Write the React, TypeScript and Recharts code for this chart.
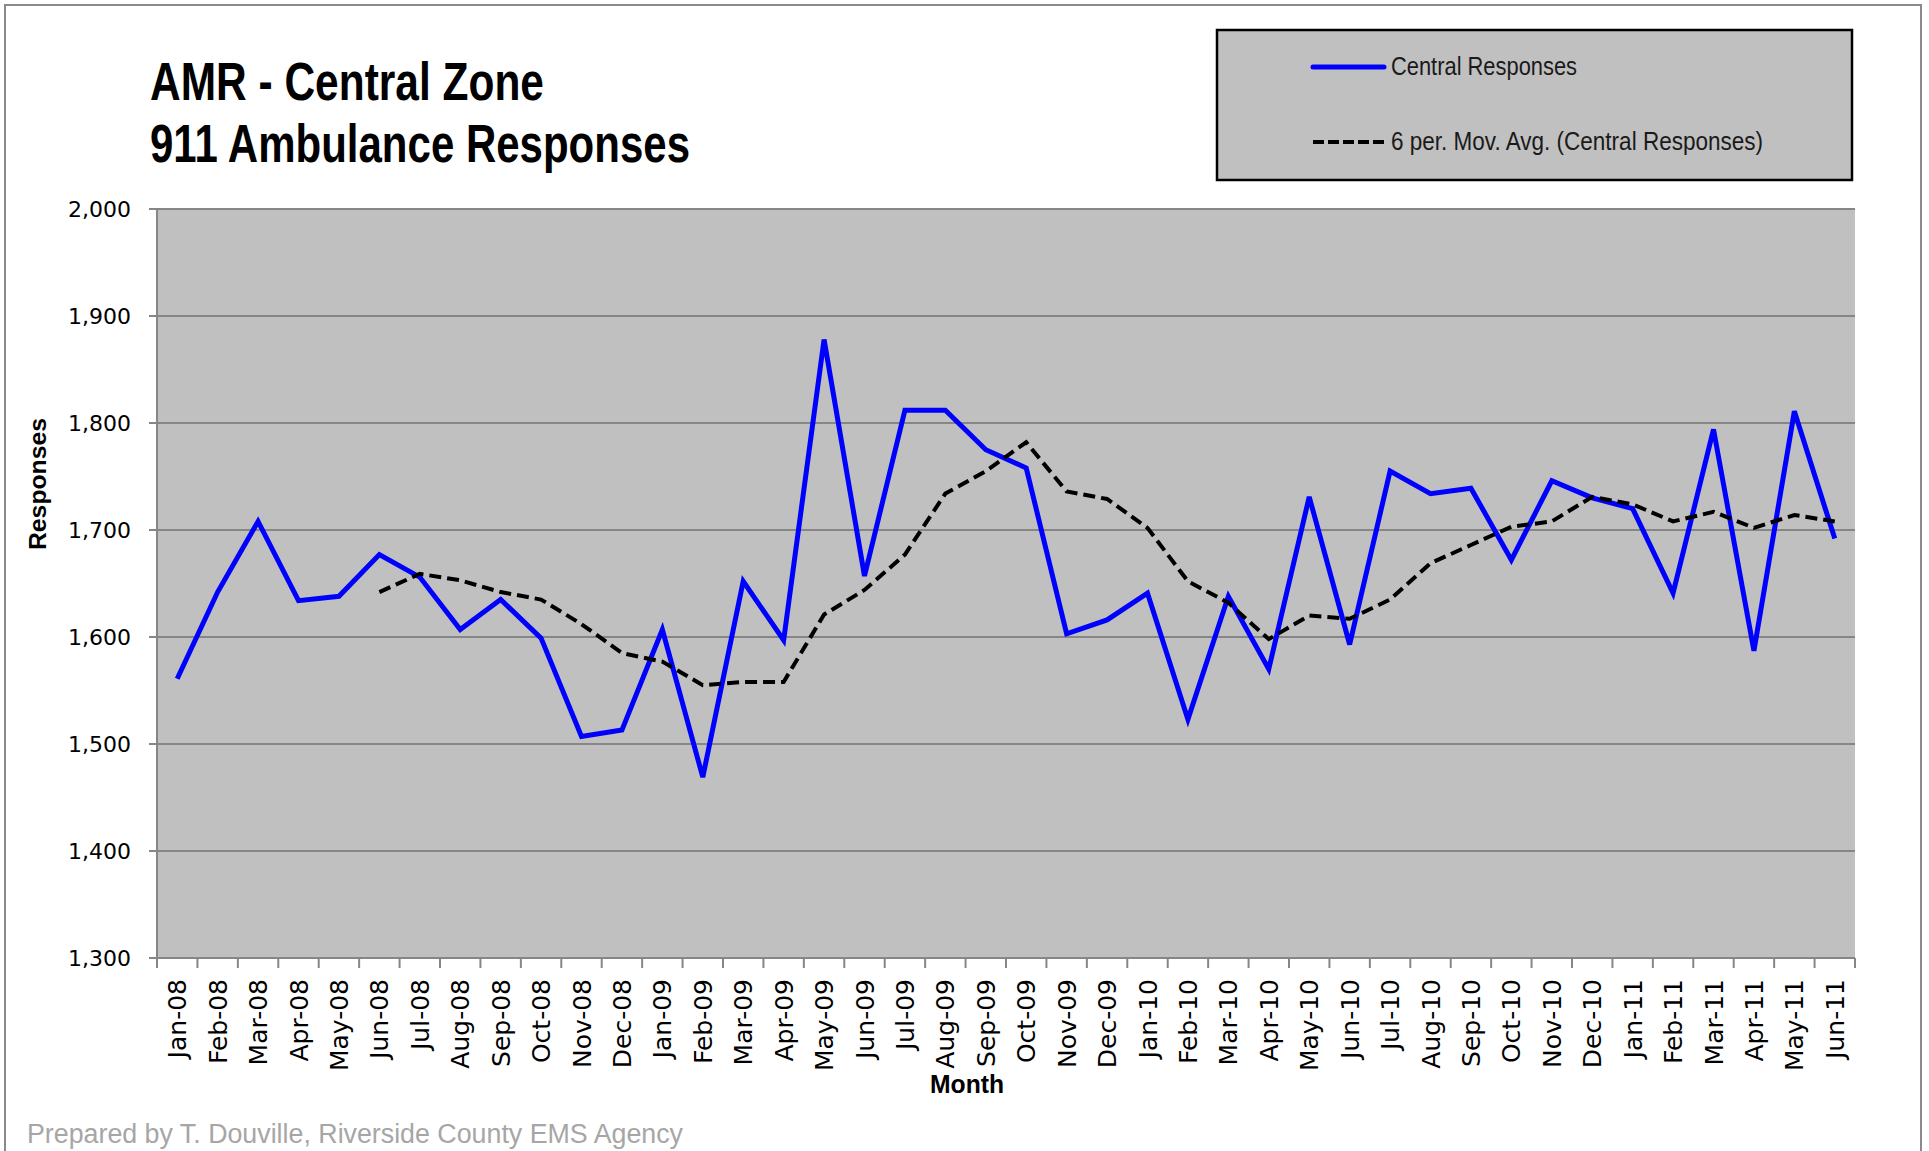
import React from "react";
import {
  LineChart,
  Line,
  XAxis,
  YAxis,
  CartesianGrid,
} from "recharts";

const months = [
  "Jan-08", "Feb-08", "Mar-08", "Apr-08", "May-08", "Jun-08", "Jul-08", "Aug-08", "Sep-08", "Oct-08", "Nov-08", "Dec-08",
  "Jan-09", "Feb-09", "Mar-09", "Apr-09", "May-09", "Jun-09", "Jul-09", "Aug-09", "Sep-09", "Oct-09", "Nov-09", "Dec-09",
  "Jan-10", "Feb-10", "Mar-10", "Apr-10", "May-10", "Jun-10", "Jul-10", "Aug-10", "Sep-10", "Oct-10", "Nov-10", "Dec-10",
  "Jan-11", "Feb-11", "Mar-11", "Apr-11", "May-11", "Jun-11",
];

const centralResponses = [
  1561, 1642, 1708, 1634, 1638, 1677, 1656, 1607, 1635, 1599, 1507, 1513,
  1607, 1469, 1652, 1597, 1878, 1657, 1812, 1812, 1775, 1758, 1603, 1616,
  1641, 1523, 1638, 1570, 1731, 1593, 1755, 1734, 1739, 1672, 1746, 1730,
  1720, 1641, 1794, 1587, 1811, 1692,
];

// 6 per. moving average as drawn (starts at Jun-08)
const movingAvg = [
  null, null, null, null, null, 1642, 1659, 1653, 1642, 1635, 1612, 1585,
  1577, 1555, 1558, 1558, 1621, 1644, 1677, 1734, 1755, 1782, 1736, 1729,
  1702, 1652, 1632, 1598, 1620, 1617, 1635, 1669, 1686, 1703, 1708, 1731,
  1724, 1708, 1717, 1702, 1714, 1708,
];

const yTicks = [1300, 1400, 1500, 1600, 1700, 1800, 1900, 2000];

const data = months.map((m, i) => ({
  idx: i,
  month: m,
  central: centralResponses[i],
  avg: movingAvg[i],
}));

const labelTicks = months.map((_, i) => i);
const boundaryTicks = [...months.map((_, i) => i - 0.5), months.length - 0.5];

const AXIS_GRAY = "#868686";
const NARROW = '"Liberation Sans Narrow", "Liberation Sans", Arial, sans-serif';
const VERDANA = '"DejaVu Sans", Verdana, sans-serif';

function MonthTick(props: any) {
  const { x, y, payload } = props;
  return (
    <g transform={`translate(${x},${y})`}>
      <text
        transform="rotate(-90)"
        x={-20}
        y={0}
        dy="0.36em"
        textAnchor="end"
        fontFamily={VERDANA}
        fontSize={25}
        fill="#000"
      >
        {months[payload.value]}
      </text>
    </g>
  );
}

export default function App() {
  return (
    <div style={{ position: "absolute", left: 0, top: 0, width: 1929, height: 1151, background: "#fff" }}>
      <LineChart
        width={1929}
        height={1151}
        data={data}
        margin={{ top: 209, right: 74, bottom: 0, left: 0 }}
      >
        <CartesianGrid
          vertical={false}
          fill="#C0C0C0"
          fillOpacity={1}
          stroke={AXIS_GRAY}
          strokeWidth={2}
        />
        <XAxis
          xAxisId="bounds"
          type="number"
          dataKey="idx"
          domain={[-0.5, months.length - 0.5]}
          ticks={boundaryTicks}
          interval={0}
          height={1}
          tickSize={10}
          tickFormatter={() => ""}
          stroke={AXIS_GRAY}
          strokeWidth={2}
        />
        <XAxis
          xAxisId="labels"
          type="number"
          dataKey="idx"
          domain={[-0.5, months.length - 0.5]}
          ticks={labelTicks}
          interval={0}
          height={192}
          axisLine={false}
          tickLine={false}
          tickSize={0}
          tickMargin={0}
          tick={<MonthTick />}
        />
        <YAxis
          width={157}
          domain={[1300, 2000]}
          ticks={yTicks}
          interval={0}
          tickSize={8}
          tickMargin={18}
          stroke={AXIS_GRAY}
          strokeWidth={2}
          tick={{ fontFamily: VERDANA, fontSize: 22, fill: "#000" }}
          tickFormatter={(v: number) => v.toLocaleString("en-US")}
        />
        <Line
          xAxisId="bounds"
          dataKey="central"
          stroke="#0000FF"
          strokeWidth={5}
          dot={false}
          isAnimationActive={false}
        />
        <Line
          xAxisId="bounds"
          dataKey="avg"
          stroke="#000"
          strokeWidth={4}
          strokeDasharray="12 6"
          dot={false}
          connectNulls={false}
          isAnimationActive={false}
        />
      </LineChart>

      <svg
        width={1929}
        height={1151}
        style={{ position: "absolute", left: 0, top: 0, pointerEvents: "none" }}
      >
        <rect x={5} y={5} width={1916} height={1170} fill="none" stroke="#8a8a8a" strokeWidth={2} />

        <text x={150} y={100} fontFamily={NARROW} fontWeight="bold" fontSize={53} fill="#000"
          textLength={394} lengthAdjust="spacingAndGlyphs">
          AMR - Central Zone
        </text>
        <text x={150} y={162} fontFamily={NARROW} fontWeight="bold" fontSize={53} fill="#000"
          textLength={540} lengthAdjust="spacingAndGlyphs">
          911 Ambulance Responses
        </text>

        <rect x={1217} y={30} width={635} height={150} fill="#C0C0C0" stroke="#000" strokeWidth={2.5} />
        <line x1={1313} y1={67} x2={1384} y2={67} stroke="#0000FF" strokeWidth={5} strokeLinecap="round" />
        <text x={1391} y={75} fontFamily={NARROW} fontSize={25} fill="#1a1a1a"
          textLength={186} lengthAdjust="spacingAndGlyphs">
          Central Responses
        </text>
        <line x1={1313} y1={142} x2={1384} y2={142} stroke="#000" strokeWidth={4} strokeDasharray="11 4" />
        <text x={1391} y={150} fontFamily={NARROW} fontSize={25} fill="#1a1a1a"
          textLength={372} lengthAdjust="spacingAndGlyphs">
          6 per. Mov. Avg. (Central Responses)
        </text>

        <text x={967} y={1093} textAnchor="middle" fontFamily={NARROW} fontWeight="bold" fontSize={25} fill="#000"
          textLength={74} lengthAdjust="spacingAndGlyphs">
          Month
        </text>
        <text transform="translate(46,484) rotate(-90)" textAnchor="middle" fontFamily={NARROW} fontWeight="bold"
          fontSize={24} fill="#000" textLength={132} lengthAdjust="spacingAndGlyphs">
          Responses
        </text>

        <text x={27} y={1143} fontFamily={NARROW} fontSize={27} fill="#A6A6A6"
          textLength={656} lengthAdjust="spacingAndGlyphs">
          Prepared by T. Douville, Riverside  County EMS Agency
        </text>
      </svg>
    </div>
  );
}
